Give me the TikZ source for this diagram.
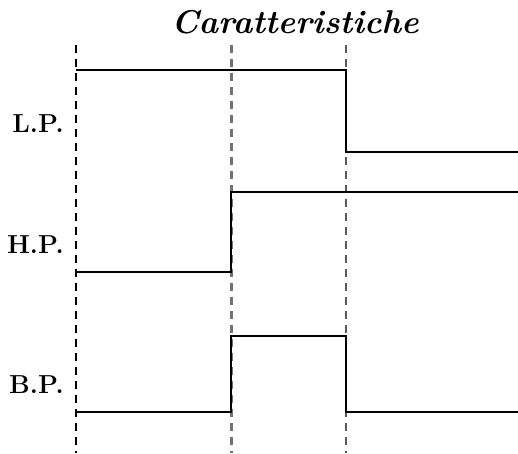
\documentclass[tikz,border=0pt]{standalone}
\usepackage{fontspec}
\setmainfont{Latin Modern Roman}
\begin{document}
\begin{tikzpicture}[x=1pt,y=-1pt,
  sig/.style={line width=1.6pt, black},
  guide/.style={line width=1.4pt, black, dash pattern=on 8pt off 6pt},
  guidegray/.style={line width=3pt, black!55, dash pattern=on 8pt off 6pt},
  guidedark/.style={line width=2pt, black!65, dash pattern=on 8pt off 6pt},
  lbl/.style={anchor=base east, font=\fontsize{26}{28}\selectfont\bfseries, inner sep=0pt}]
\useasboundingbox (0,0) rectangle (518,453);
% title
\node[anchor=base, font=\fontsize{33}{36}\selectfont\bfseries\itshape, inner sep=0pt] (title) at (295,33) {Caratteristiche};
% guides
\coordinate (g1t) at (76,45); \coordinate (g1b) at (76,453);
\coordinate (g2t) at (231,45); \coordinate (g2b) at (231,453);
\coordinate (g3t) at (346,45); \coordinate (g3b) at (346,453);
\draw[guide] (g1t) -- (g1b);
\draw[guidegray] (g2t) -- (g2b);
\draw[guidedark] (g3t) -- (g3b);
% labels
\node[lbl] (lp) at (64,132) {L.P.};
\node[lbl] (hp) at (64,253) {H.P.};
\node[lbl] (bp) at (64,393) {B.P.};
% L.P.
\coordinate (l0) at (76,70); \coordinate (l1) at (346,70);
\coordinate (l2) at (346,152); \coordinate (l3) at (518,152);
\draw[sig] (l0) -- (l1) -- (l2) -- (l3);
% H.P.
\coordinate (h0) at (76,272); \coordinate (h1) at (231,272);
\coordinate (h2) at (231,192); \coordinate (h3) at (518,192);
\draw[sig] (h0) -- (h1) -- (h2) -- (h3);
% B.P.
\coordinate (b0) at (76,412); \coordinate (b1) at (231,412);
\coordinate (b2) at (231,336); \coordinate (b3) at (346,336);
\coordinate (b4) at (346,412); \coordinate (b5) at (518,412);
\draw[sig] (b0) -- (b1) -- (b2) -- (b3) -- (b4) -- (b5);
\end{tikzpicture}
\end{document}
